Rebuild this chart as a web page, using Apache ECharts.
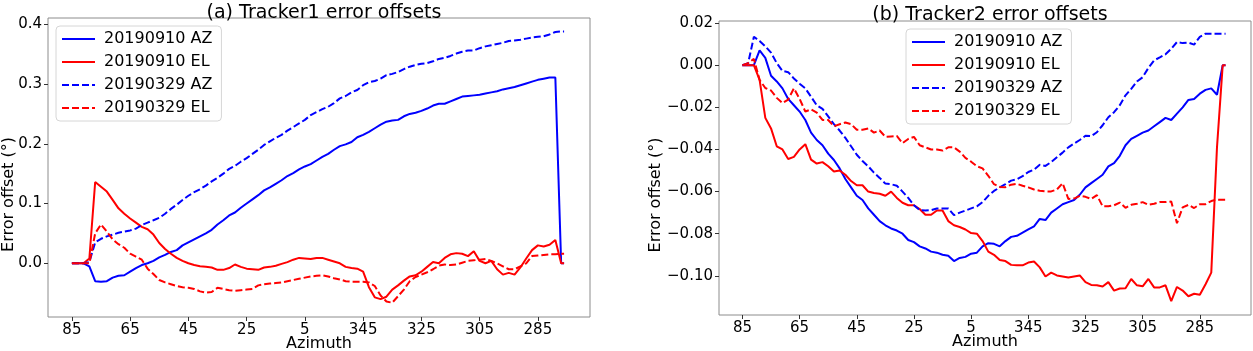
<!DOCTYPE html>
<html>
<head>
<meta charset="utf-8">
<script src="https://cdn.jsdelivr.net/npm/echarts@6/dist/echarts.min.js"></script>
<style>
  html, body { margin: 0; padding: 0; background: #fff; }
  #chart { width: 1253px; height: 351px; }
</style>
</head>
<body>
<div id="chart"></div>
<script>
// azimuth in degrees, unwrapped (negative = 360 + value, e.g. -15 -> 345)
const azimuth = [85, 83, 81, 79, 77, 75, 73, 71, 69, 67, 65, 63, 61, 59, 57, 55, 53, 51, 49, 47,
  45, 43, 41, 39, 37, 35, 33, 31, 29, 27, 25, 23, 21, 19, 17, 15, 13, 11, 9, 7, 5,
  3, 1, -1, -3, -5, -7, -9, -11, -13, -15, -17, -19, -21, -23, -25, -27, -29, -31, -33, -35,
  -37, -39, -41, -43, -45, -47, -49, -51, -53, -55, -57, -59, -61, -63, -65, -67, -69, -71, -73, -75,
  -77, -79, -81, -83, -84]
const xTicks = [85, 65, 45, 25, 5, -15, -35, -55, -75]
const seriesNames = ['20190910 AZ', '20190910 EL', '20190329 AZ', '20190329 EL']

// (a) Tracker1
const t1AzSep = [0, 0, 0, -0.005, -0.030, -0.031, -0.030, -0.024, -0.021, -0.020,
  -0.014, -0.008, -0.003, 0.000, 0.004, 0.010, 0.014, 0.019, 0.022, 0.030,
  0.035, 0.040, 0.045, 0.050, 0.056, 0.065, 0.072, 0.080, 0.085, 0.093,
  0.100, 0.107, 0.114, 0.122, 0.127, 0.133, 0.139, 0.146, 0.151, 0.157, 0.162,
  0.166, 0.172, 0.178, 0.183, 0.190, 0.196, 0.199, 0.203, 0.211, 0.215,
  0.220, 0.226, 0.232, 0.237, 0.239, 0.240, 0.246, 0.250, 0.252, 0.255,
  0.259, 0.264, 0.267, 0.267, 0.271, 0.275, 0.279, 0.280, 0.281, 0.282,
  0.284, 0.286, 0.288, 0.291, 0.293, 0.295, 0.298, 0.301, 0.304, 0.307,
  0.309, 0.311, 0.311, 0.000, 0.000]
const t1ElSep = [0, 0, 0, 0.008, 0.136, 0.128, 0.120, 0.106, 0.092, 0.083,
  0.075, 0.068, 0.061, 0.057, 0.048, 0.034, 0.024, 0.016, 0.009, 0.004,
  0.000, -0.003, -0.005, -0.006, -0.007, -0.011, -0.011, -0.008, -0.002, -0.006,
  -0.009, -0.010, -0.011, -0.007, -0.006, -0.004, -0.001, 0.002, 0.006, 0.009, 0.008,
  0.007, 0.009, 0.009, 0.006, 0.003, 0.000, -0.006, -0.008, -0.009, -0.014,
  -0.040, -0.057, -0.060, -0.056, -0.044, -0.037, -0.029, -0.022, -0.020, -0.014,
  -0.006, 0.002, 0.000, 0.009, 0.015, 0.017, 0.016, 0.012, 0.020, 0.004,
  0.000, 0.004, -0.010, -0.019, -0.016, -0.019, -0.007, 0.008, 0.022, 0.030,
  0.028, 0.031, 0.039, 0.000, 0.000]
const t1AzMar = [0, 0, 0, 0.002, 0.035, 0.041, 0.045, 0.048, 0.051, 0.053,
  0.055, 0.058, 0.064, 0.068, 0.072, 0.076, 0.083, 0.091, 0.098, 0.106,
  0.113, 0.119, 0.124, 0.130, 0.137, 0.143, 0.150, 0.158, 0.163, 0.170,
  0.176, 0.183, 0.190, 0.198, 0.204, 0.210, 0.215, 0.222, 0.228, 0.234, 0.240,
  0.248, 0.253, 0.258, 0.262, 0.268, 0.276, 0.280, 0.286, 0.290, 0.298,
  0.303, 0.305, 0.309, 0.315, 0.317, 0.320, 0.325, 0.329, 0.332, 0.334,
  0.335, 0.338, 0.342, 0.344, 0.347, 0.351, 0.354, 0.356, 0.356, 0.360,
  0.363, 0.365, 0.367, 0.369, 0.372, 0.373, 0.374, 0.376, 0.378, 0.379,
  0.380, 0.383, 0.387, 0.388, 0.388]
const t1ElMar = [0, 0, 0, 0.000, 0.050, 0.065, 0.053, 0.040, 0.032, 0.026,
  0.016, 0.011, 0.006, -0.009, -0.018, -0.028, -0.032, -0.035, -0.038, -0.040,
  -0.041, -0.043, -0.047, -0.049, -0.048, -0.041, -0.043, -0.045, -0.046, -0.045,
  -0.044, -0.043, -0.037, -0.035, -0.034, -0.033, -0.032, -0.030, -0.028, -0.026, -0.024,
  -0.022, -0.021, -0.020, -0.022, -0.025, -0.027, -0.030, -0.031, -0.031, -0.031,
  -0.032, -0.038, -0.054, -0.064, -0.066, -0.055, -0.044, -0.030, -0.023, -0.019,
  -0.015, -0.010, -0.004, -0.002, -0.003, -0.002, 0.001, 0.004, 0.005, 0.006,
  0.007, 0.004, 0.000, -0.005, -0.010, -0.010, -0.005, 0.000, 0.012, 0.013,
  0.014, 0.015, 0.015, 0.016, 0.016]

// (b) Tracker2
const t2AzSep = [0, 0, 0, 0.007, 0.0035, -0.005, -0.0077, -0.011, -0.016, -0.019,
  -0.022, -0.026, -0.032, -0.0355, -0.038, -0.042, -0.045, -0.049, -0.054, -0.058,
  -0.062, -0.064, -0.068, -0.071, -0.074, -0.076, -0.0775, -0.0785, -0.080, -0.083,
  -0.084, -0.086, -0.087, -0.0885, -0.089, -0.090, -0.0905, -0.093, -0.0915, -0.091, -0.0895,
  -0.089, -0.086, -0.0845, -0.0848, -0.086, -0.0835, -0.0815, -0.081, -0.0795, -0.078,
  -0.0765, -0.073, -0.0735, -0.070, -0.068, -0.066, -0.065, -0.064, -0.0615, -0.058,
  -0.056, -0.054, -0.052, -0.048, -0.0465, -0.043, -0.038, -0.035, -0.0335, -0.032,
  -0.031, -0.029, -0.027, -0.025, -0.026, -0.023, -0.020, -0.0165, -0.016, -0.0135,
  -0.0117, -0.011, -0.014, 0.000, 0.000]
const t2ElSep = [0, 0, 0, -0.007, -0.025, -0.030, -0.0385, -0.040, -0.0445, -0.0435,
  -0.040, -0.0375, -0.0448, -0.0467, -0.046, -0.048, -0.0505, -0.050, -0.052, -0.055,
  -0.057, -0.057, -0.060, -0.0607, -0.061, -0.062, -0.060, -0.063, -0.0653, -0.0665,
  -0.0665, -0.0683, -0.071, -0.071, -0.069, -0.069, -0.074, -0.076, -0.0768, -0.078, -0.0797,
  -0.080, -0.0835, -0.0885, -0.090, -0.0925, -0.093, -0.0948, -0.095, -0.095, -0.0937,
  -0.0932, -0.096, -0.1003, -0.0985, -0.0998, -0.1003, -0.1008, -0.1003, -0.0998, -0.103,
  -0.1043, -0.1045, -0.1051, -0.103, -0.107, -0.106, -0.1059, -0.1015, -0.1045, -0.105,
  -0.1015, -0.1055, -0.1055, -0.1045, -0.112, -0.1053, -0.107, -0.1097, -0.1085, -0.109,
  -0.104, -0.0985, -0.039, 0.000, 0.000]
const t2AzMar = [0, 0.001, 0.0135, 0.0115, 0.009, 0.006, 0.001, -0.0027, -0.0033, -0.0063,
  -0.0088, -0.011, -0.015, -0.019, -0.0207, -0.0243, -0.028, -0.031, -0.0345, -0.0385,
  -0.0425, -0.0455, -0.048, -0.051, -0.0535, -0.0562, -0.0565, -0.0572, -0.060, -0.063,
  -0.0665, -0.0688, -0.069, -0.0688, -0.068, -0.068, -0.068, -0.0712, -0.070, -0.069, -0.068,
  -0.067, -0.065, -0.062, -0.0597, -0.058, -0.0565, -0.0548, -0.0542, -0.0527, -0.0507,
  -0.0496, -0.0473, -0.0478, -0.046, -0.0437, -0.0415, -0.039, -0.0372, -0.0355, -0.0335,
  -0.0337, -0.0318, -0.0285, -0.0247, -0.0223, -0.019, -0.0143, -0.0112, -0.0077, -0.0057,
  -0.0013, 0.0023, 0.0037, 0.0052, 0.0078, 0.011, 0.0105, 0.0107, 0.0098, 0.0135,
  0.015, 0.015, 0.015, 0.015, 0.015]
const t2ElMar = [0, 0.001, 0.003, -0.007, -0.0108, -0.012, -0.0155, -0.018, -0.0163, -0.011,
  -0.016, -0.022, -0.021, -0.0225, -0.026, -0.026, -0.029, -0.028, -0.0272, -0.028,
  -0.0306, -0.0306, -0.030, -0.032, -0.031, -0.034, -0.0338, -0.0336, -0.037, -0.035,
  -0.034, -0.038, -0.039, -0.040, -0.040, -0.0405, -0.039, -0.039, -0.041, -0.044, -0.0458,
  -0.048, -0.049, -0.0525, -0.0565, -0.0578, -0.0579, -0.0567, -0.0563, -0.0572, -0.058,
  -0.059, -0.0596, -0.0599, -0.0599, -0.059, -0.056, -0.0635, -0.0633, -0.062, -0.0625,
  -0.0635, -0.0617, -0.067, -0.067, -0.0665, -0.0652, -0.0677, -0.0663, -0.0658, -0.065,
  -0.0663, -0.0658, -0.065, -0.065, -0.0647, -0.075, -0.0675, -0.0663, -0.0678, -0.066,
  -0.066, -0.0645, -0.0638, -0.0639, -0.0639]

const font = 'DejaVu Sans'
const frameColor = '#8c8c8c'

function pairs(arr) {
  return azimuth.map((a, i) => [a, arr[i]])
}

function line(name, arr, color, dashed, idx) {
  return {
    name: name,
    type: 'line',
    xAxisIndex: idx,
    yAxisIndex: idx,
    data: pairs(arr),
    symbol: 'none',
    showSymbol: false,
    animation: false,
    lineStyle: { color: color, width: 2, type: dashed ? [7, 3] : 'solid' },
    itemStyle: { color: color },
  }
}

function xAxis(idx) {
  return {
    gridIndex: idx,
    type: 'value',
    inverse: true,
    min: -92.9,
    max: 93.2,
    name: 'Azimuth',
    nameLocation: 'middle',
    nameGap: 19,
    nameMoveOverlap: false,
    nameTextStyle: { fontFamily: font, fontSize: 16, color: '#000' },
    splitLine: { show: false },
    axisLine: { show: false, onZero: false },
    axisTick: { show: true, length: 4, lineStyle: { color: '#333' }, customValues: xTicks },
    axisLabel: {
      fontFamily: font, fontSize: 15, color: '#000', margin: 6,
      customValues: xTicks,
      formatter: (v) => String(v < 0 ? v + 360 : v),
    },
  }
}

function yAxis(idx, min, max, ticks, digits, gap) {
  return {
    gridIndex: idx,
    type: 'value',
    min: min,
    max: max,
    name: 'Error offset (°)',
    nameLocation: 'middle',
    nameGap: gap,
    nameMoveOverlap: false,
    // extra right padding pushes the rotated label a little lower, as in the source figure
    nameTextStyle: { fontFamily: font, fontSize: 16, color: '#000', padding: [0, 54, 0, 0] },
    splitLine: { show: false },
    axisLine: { show: false, onZero: false },
    axisTick: { show: true, length: 4, lineStyle: { color: '#333' }, customValues: ticks },
    axisLabel: {
      fontFamily: font, fontSize: 15, color: '#000', margin: 6,
      customValues: ticks,
      formatter: (v) => (v < -1e-9 ? '\u2212' : '') + Math.abs(v).toFixed(digits),
    },
  }
}

function legend(left, top) {
  return {
    orient: 'vertical',
    left: left,
    top: top,
    data: seriesNames,
    itemWidth: 33,
    itemHeight: 14,
    itemGap: 7,
    padding: [5, 9, 5, 5],
    backgroundColor: 'rgba(255,255,255,0.85)',
    borderColor: '#d6d6d6',
    borderWidth: 1,
    borderRadius: 4,
    selectedMode: false,
    itemStyle: { opacity: 0 },
    textStyle: { fontFamily: font, fontSize: 16, color: '#000', lineHeight: 16, padding: [0, 0, 0, 4] },
  }
}

const chart = echarts.init(document.getElementById('chart'), null, { renderer: 'canvas' })
chart.setOption({
  backgroundColor: '#fff',
  animation: false,
  title: [
    { text: '(a) Tracker1 error offsets', left: 319, top: -1, textAlign: 'center',
      textStyle: { fontFamily: font, fontSize: 19, fontWeight: 'normal', color: '#000' } },
    { text: '(b) Tracker2 error offsets', left: 985, top: 1, textAlign: 'center',
      textStyle: { fontFamily: font, fontSize: 19, fontWeight: 'normal', color: '#000' } },
  ],
  legend: [legend(56, 26), legend(906, 29)],
  grid: [
    { left: 48, right: 663, top: 18, bottom: 34, outerBoundsMode: 'none', containLabel: false,
      show: true, borderColor: frameColor, borderWidth: 1, backgroundColor: 'transparent' },
    { left: 719, right: 2, top: 21, bottom: 36, outerBoundsMode: 'none', containLabel: false,
      show: true, borderColor: frameColor, borderWidth: 1, backgroundColor: 'transparent' },
  ],
  xAxis: [xAxis(0), xAxis(1)],
  yAxis: [
    yAxis(0, -0.0899, 0.4105, [0, 0.1, 0.2, 0.3, 0.4], 1, 31),
    yAxis(1, -0.1186, 0.021, [-0.1, -0.08, -0.06, -0.04, -0.02, 0, 0.02], 2, 55),
  ],
  series: [
    line(seriesNames[0], t1AzSep, '#0000ff', false, 0),
    line(seriesNames[1], t1ElSep, '#ff0000', false, 0),
    line(seriesNames[2], t1AzMar, '#0000ff', true, 0),
    line(seriesNames[3], t1ElMar, '#ff0000', true, 0),
    line(seriesNames[0], t2AzSep, '#0000ff', false, 1),
    line(seriesNames[1], t2ElSep, '#ff0000', false, 1),
    line(seriesNames[2], t2AzMar, '#0000ff', true, 1),
    line(seriesNames[3], t2ElMar, '#ff0000', true, 1),
  ],
})
</script>
</body>
</html>
